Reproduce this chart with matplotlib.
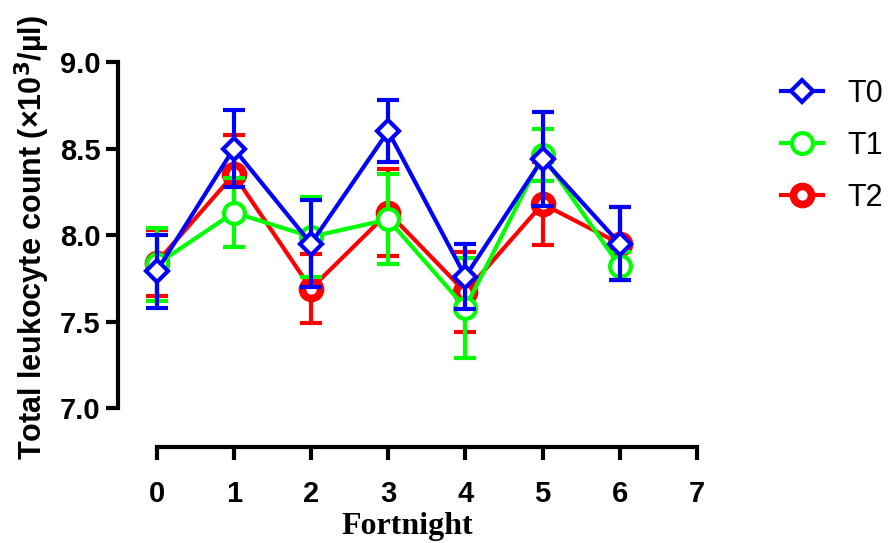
import matplotlib
matplotlib.use("Agg")
import matplotlib.pyplot as plt
from matplotlib.lines import Line2D

fortnight = [0, 1, 2, 3, 4, 5, 6]
groups = ["T0", "T1", "T2"]
t0_mean = [7.79, 8.50, 7.95, 8.60, 7.76, 8.44, 7.95]
t0_err = [0.21, 0.22, 0.25, 0.18, 0.19, 0.27, 0.21]
t1_mean = [7.83, 8.13, 7.99, 8.09, 7.58, 8.46, 7.82]
t1_err = [0.21, 0.20, 0.23, 0.26, 0.29, 0.15, 0.08]
t2_mean = [7.84, 8.35, 7.69, 8.13, 7.67, 8.18, 7.95]
t2_err = [0.19, 0.23, 0.20, 0.25, 0.23, 0.24, 0.21]

plt.rcParams['font.family'] = ['Liberation Sans', 'DejaVu Sans']

fig = plt.figure(figsize=(8.89, 5.43), dpi=100)
ax = fig.add_axes([0.1327, 0.1768, 0.6513, 0.709])

# red first so blue ends up on top
series = [
    (t2_mean, t2_err, "#ff0000", "o", 13, 5.5, "T2", 1),
    (t1_mean, t1_err, "#00ff00", "o", 15, 3.0, "T1", 2),
    (t0_mean, t0_err, "#0000ff", "D", 11.5, 3.0, "T0", 3),
]
handles = {}
for mean, err, col, mk, ms, mew, lab, z in series:
    ax.errorbar(fortnight, mean, yerr=err, color=col, lw=3, fmt="none",
                capsize=8, capthick=3, elinewidth=3, zorder=z, clip_on=False)
    ax.plot(fortnight, mean, color=col, lw=3, zorder=z + 0.5, clip_on=False)
    ax.plot(fortnight, mean, ls="none", marker=mk, markersize=ms,
            markeredgewidth=mew, markerfacecolor="white", markeredgecolor=col,
            zorder=z + 0.6, clip_on=False)
    handles[lab] = Line2D([], [], color=col, lw=3, marker=mk, markersize=ms,
                          markeredgewidth=mew, markerfacecolor="white",
                          markeredgecolor=col)

ax.set_xlim(-0.5, 7)
ax.set_ylim(6.775, 9.0)
ax.spines['top'].set_visible(False)
ax.spines['right'].set_visible(False)
ax.spines['left'].set_bounds(7.0, 9.0)
ax.spines['bottom'].set_bounds(0, 7)
for s in ['left', 'bottom']:
    ax.spines[s].set_linewidth(3)

ax.set_xticks(range(0, 8))
ax.set_yticks([7.0, 7.5, 8.0, 8.5, 9.0])
ax.set_yticklabels(["7.0", "7.5", "8.0", "8.5", "9.0"])
ax.tick_params(width=3, length=9)
ax.tick_params(axis='x', pad=15)
for t in ax.get_yticklabels():
    t.set_fontsize(21)
    t.set_fontweight('bold')
for t in ax.get_xticklabels():
    t.set_fontsize(21)
    t.set_fontweight('bold')

ax.set_ylabel("Total leukocyte count (×10$^\\mathbf{3}$/µl)", fontsize=22,
              fontweight='bold')
ax.yaxis.set_label_coords(-0.114, 0.545)
ax.set_xlabel("Fortnight", fontsize=23, fontweight='bold',
              family=['Liberation Serif', 'DejaVu Serif'], labelpad=3)

fig.legend([handles[g] for g in groups], groups, loc="upper left",
           bbox_to_anchor=(0.878, 0.855), frameon=False, fontsize=22,
           handlelength=1.4, handletextpad=0.8, labelspacing=0.72,
           borderpad=0, borderaxespad=0)

fig.savefig("out.png", dpi=100)
